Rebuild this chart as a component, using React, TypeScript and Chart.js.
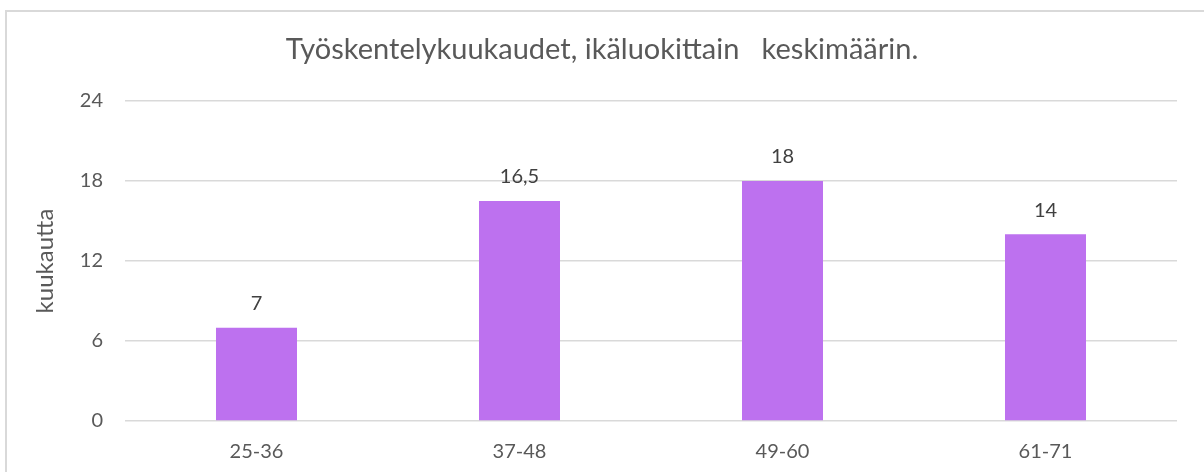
import React, { useEffect, useRef } from "react";
import { Chart, registerables } from "chart.js";

Chart.register(...registerables);

const categories = ["25-36", "37-48", "49-60", "61-71"];
const values = [7, 16.5, 18, 14];
const titleText = "Työskentelykuukaudet, ikäluokittain   keskimäärin.";
const yAxisTitle = "kuukautta";
const barColor = "#BD71EF";
const FONT = "Lato, 'Open Sans', sans-serif";

const dataLabelPlugin = {
  id: "dataLabels",
  afterDatasetsDraw(chart: any) {
    const ctx = chart.ctx;
    const meta = chart.getDatasetMeta(0);
    ctx.save();
    ctx.fillStyle = "#404040";
    ctx.font = `20px ${FONT}`;
    ctx.textAlign = "center";
    ctx.textBaseline = "middle";
    meta.data.forEach((bar: any, i: number) => {
      const v = chart.data.datasets[0].data[i];
      ctx.fillText(String(v).replace(".", ","), bar.x, bar.y - 24);
    });
    ctx.restore();
  },
};

export default function App() {
  const ref = useRef<HTMLCanvasElement | null>(null);
  useEffect(() => {
    if (!ref.current) return;
    const chart = new Chart(ref.current, {
      type: "bar",
      data: {
        labels: categories,
        datasets: [
          {
            data: values,
            backgroundColor: barColor,
            barPercentage: 0.308,
            categoryPercentage: 1,
          },
        ],
      },
      options: {
        animation: false,
        responsive: true,
        maintainAspectRatio: false,
        layout: { padding: { left: 0, right: 0, top: 0, bottom: 0 } },
        plugins: {
          legend: { display: false },
          tooltip: { enabled: false },
          title: {
            display: true,
            text: titleText,
            color: "#595959",
            font: { family: FONT, size: 29, weight: "normal" },
            padding: { top: 32.5, bottom: 33.7 },
          },
        },
        scales: {
          x: {
            grid: { display: false, drawTicks: false },
            border: { display: false },
            ticks: {
              color: "#595959",
              font: { family: FONT, size: 20 },
              padding: 19,
            },
            afterFit: (scale: any) => {
              scale.height = 51;
            },
          },
          y: {
            min: 0,
            max: 24,
            ticks: {
              stepSize: 6,
              color: "#595959",
              font: { family: FONT, size: 20 },
              padding: 22,
            },
            grid: { color: "#d9d9d9", lineWidth: 1.5, drawTicks: false },
            border: { display: false },
            title: {
              display: true,
              text: yAxisTitle,
              color: "#595959",
              font: { family: FONT, size: 24, weight: "normal" },
              padding: { top: 31, bottom: 0 },
            },
            afterFit: (scale: any) => {
              scale.width = 125;
            },
          },
          yRight: {
            position: "right",
            display: true,
            min: 0,
            max: 24,
            grid: { display: false, drawTicks: false },
            border: { display: false },
            ticks: { display: false },
            afterFit: (scale: any) => {
              scale.width = 27;
            },
          },
        },
      },
      plugins: [dataLabelPlugin],
    });
    return () => chart.destroy();
  }, []);

  return (
    <div>
      <div
        style={{
          position: "fixed",
          left: 5,
          top: 10,
          width: 2000,
          height: 2000,
          border: "2px solid #d9d9d9",
          boxSizing: "border-box",
          background: "#fff",
        }}
      />
      <div style={{ position: "fixed", left: 0, top: 0, width: 1204, height: 472 }}>
        <canvas ref={ref} />
      </div>
    </div>
  );
}
